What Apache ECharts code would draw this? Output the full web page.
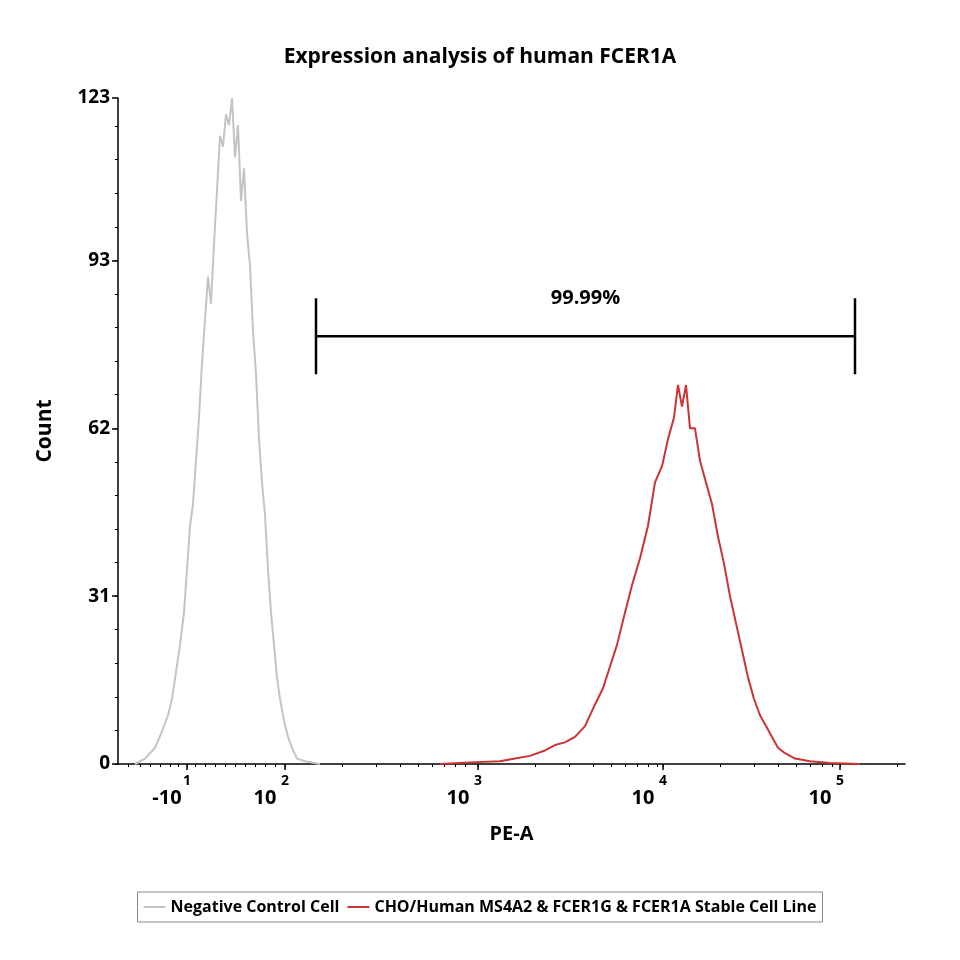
<!DOCTYPE html>
<html><head><meta charset="utf-8">
<script src="https://cdn.jsdelivr.net/npm/echarts@6/dist/echarts.min.js"></script>
<style>html,body{margin:0;background:#fff}#c{width:960px;height:960px}</style>
</head><body><div id="c"></div>
<script>
// x in display channel units (biexponential PE-A scale), y = count
var negX = [135,145,155,162,168,172,176,180,184,187,190,193,196,199,202,205,208,211,214,217,220,223,226,229,232,235,238,241,244,247,250,253,256,259,262,265,268,271,274,277,280,284,288,292,297,305,320];
var negY = [0,1,3,6,9,12,17,22,28,36,44,48,56,64,74,82,90,85,96,106,116,114,120,118,123,112,118,104,110,98,92,80,72,60,52,46,36,28,22,16,12,8,5,3,1,0.5,0];
var posX = [440,470,500,515,530,545,555,565,575,585,595,603,610,617,625,632,640,648,655,662,668,674,678,682,686,690,695,700,706,712,718,724,730,736,742,748,754,760,766,772,778,785,795,810,830,860];
var posY = [0,0.3,0.5,1,1.5,2.5,3.5,4,5,7,11,14,18,22,28,33,38,44,52,55,60,64,70,66,70,62,62,56,52,48,42,37,31,26,21,16,12,9,7,5,3,2,1,0.5,0.2,0];
var xLabelVals = [187,285,478,663,840];
var xLabelBase = ['-10','10','10','10','10'];
var xLabelExp = ['1','2','3','4','5'];
var xMinorVals = [128,140,150,160,170,178,187,195,205,215,225,235,245,255,265,275,285,342,376,400,418,432,444,455,465,478,535,569,593,611,625,637,648,657,663,720,754,778,796,810,822,832,840,897];
var yTickVals = [0,31,62,93,123];
var bracketX = [316,855];
var bracketY = 79, bracketHalf = 7;
var gateLabel = '99.99%';

var chart = echarts.init(document.getElementById('c'));
var minorY = [];
for (var v = 0; v <= 123; v += 6.2) minorY.push(v);
chart.setOption({
  animation: false,
  title: {text: 'Expression analysis of human FCER1A', left: 'center', top: 42,
    textStyle: {fontFamily: 'Open Sans', fontWeight: 'bold', fontSize: 21, color: '#000'}},
  grid: {left: 118, right: 55, top: 98, bottom: 196},
  xAxis: [{
    type: 'value', min: 118, max: 905,
    name: 'PE-A', nameLocation: 'middle', nameGap: 60,
    nameTextStyle: {fontFamily: 'Open Sans', fontWeight: 'bold', fontSize: 20, color: '#000'},
    axisLine: {onZero: false, lineStyle: {color: '#000', width: 1.5}},
    splitLine: {show: false},
    axisTick: {customValues: xLabelVals, length: 6, lineStyle: {color: '#000', width: 1.5}},
    axisLabel: {customValues: xLabelVals, margin: 10,
      formatter: function (v) {
        var i = xLabelVals.indexOf(v);
        return '{s|' + xLabelExp[i] + '}\n{b|' + xLabelBase[i] + '}';
      },
      rich: {
        s: {fontFamily: 'Open Sans', fontWeight: 'bold', fontSize: 14, color: '#000'},
        b: {fontFamily: 'Open Sans', fontWeight: 'bold', fontSize: 20, color: '#000', padding: [0, 40, 0, 0]}
      }}
  }, {
    type: 'value', min: 118, max: 905, position: 'bottom',
    axisLine: {show: false}, splitLine: {show: false}, axisLabel: {show: false},
    axisTick: {customValues: xMinorVals, length: 3, lineStyle: {color: '#000'}}
  }],
  yAxis: [{
    type: 'value', min: 0, max: 123,
    name: 'Count', nameLocation: 'middle', nameGap: 62,
    nameTextStyle: {fontFamily: 'Open Sans', fontWeight: 'bold', fontSize: 21, color: '#000'},
    axisLine: {show: true, lineStyle: {color: '#000', width: 1.5}},
    splitLine: {show: false},
    axisTick: {customValues: yTickVals, length: 6, lineStyle: {color: '#000', width: 1.5}},
    axisLabel: {customValues: yTickVals, fontFamily: 'Open Sans', fontWeight: 'bold', fontSize: 19, color: '#000'}
  }, {
    type: 'value', min: 0, max: 123, position: 'left',
    axisLine: {show: false}, splitLine: {show: false}, axisLabel: {show: false},
    axisTick: {customValues: minorY, length: 3, lineStyle: {color: '#000'}}
  }],
  legend: {bottom: 38, left: 'center', itemWidth: 22, itemHeight: 2, itemGap: 8,
    borderColor: '#888', borderWidth: 1, padding: [7, 6], borderRadius: 0,
    icon: 'rect',
    textStyle: {fontFamily: 'Open Sans', fontWeight: 'bold', fontSize: 16, color: '#000'},
    data: ['Negative Control Cell', 'CHO/Human MS4A2 & FCER1G & FCER1A Stable Cell Line']},
  series: [
    {name: 'Negative Control Cell', type: 'line', showSymbol: false, smooth: false,
      lineStyle: {color: '#c4c4c4', width: 2}, itemStyle: {color: '#c4c4c4'},
      data: negX.map(function (x, i) { return [x, negY[i]]; })},
    {name: 'CHO/Human MS4A2 & FCER1G & FCER1A Stable Cell Line', type: 'line', showSymbol: false,
      lineStyle: {color: '#cc3333', width: 2}, itemStyle: {color: '#cc3333'},
      data: posX.map(function (x, i) { return [x, posY[i]]; })},
    {name: 'gate', type: 'line', showSymbol: false, silent: true,
      lineStyle: {color: '#000', width: 2.5}, itemStyle: {color: '#000'},
      data: [[bracketX[0], bracketY + bracketHalf], [bracketX[0], bracketY - bracketHalf], [bracketX[0], bracketY],
             [bracketX[1], bracketY], [bracketX[1], bracketY + bracketHalf], [bracketX[1], bracketY - bracketHalf]],
      markPoint: {symbol: 'rect', symbolSize: 1, itemStyle: {color: 'transparent'},
        label: {show: true, formatter: gateLabel, offset: [0, -38], fontFamily: 'Open Sans', fontWeight: 'bold', fontSize: 20, color: '#000'},
        data: [{coord: [(bracketX[0] + bracketX[1]) / 2, bracketY]}]}}
  ]
});
</script></body></html>
